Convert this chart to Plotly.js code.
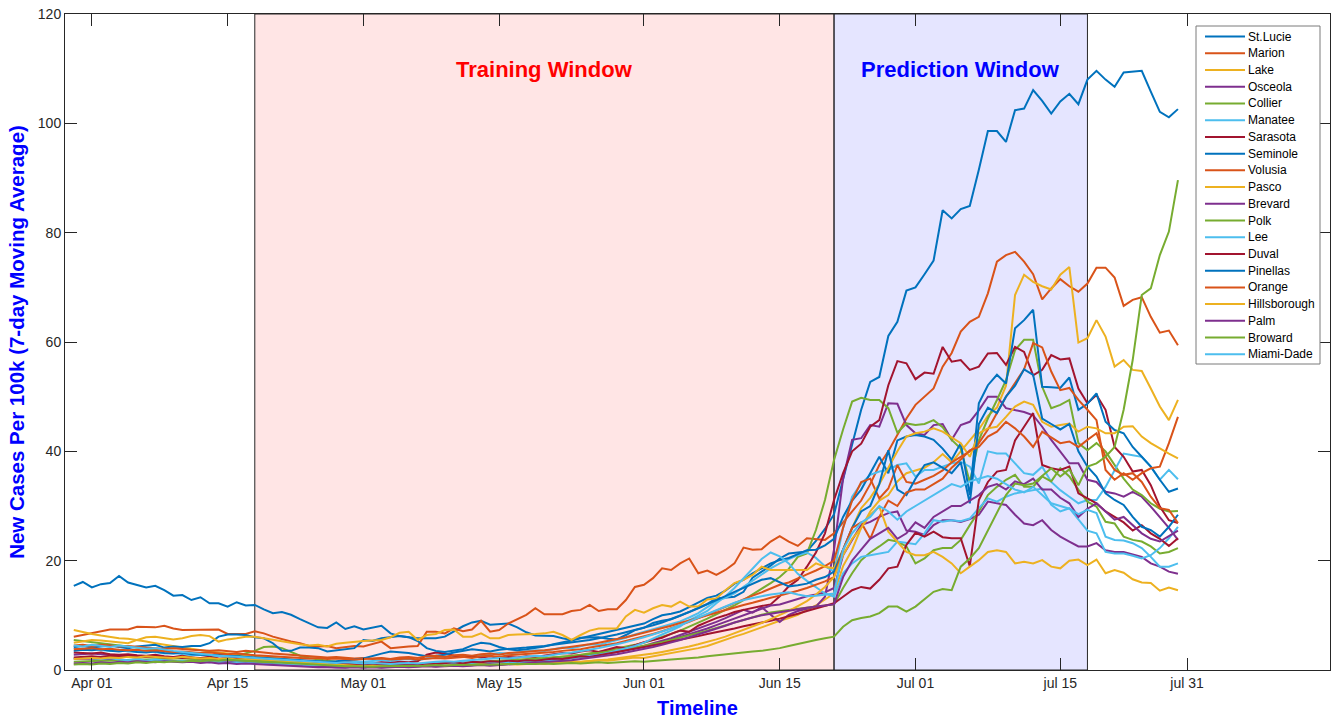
<!DOCTYPE html>
<html>
<head>
<meta charset="utf-8">
<script src="https://cdn.plot.ly/plotly-3.0.1.min.js"></script>
<style>
html, body { margin: 0; padding: 0; background: #ffffff; }
#chart { width: 1341px; height: 719px; }
</style>
</head>
<body>
<div id="chart"></div>
<script>
// ---- Data (daily values, day 0 = first plotted day) ----
const counties = ['St.Lucie','Marion','Lake','Osceola','Collier','Manatee','Sarasota','Seminole','Volusia','Pasco',
                  'Brevard','Polk','Lee','Duval','Pinellas','Orange','Hillsborough','Palm','Broward','Miami-Dade'];

const stLucie = [15.4,16.1,15.1,15.7,15.9,17.2,16.0,15.5,15.1,15.4,14.6,13.6,13.7,12.8,13.3,12.2,12.2,11.6,12.4,11.8,
 11.9,11.1,10.4,10.6,10.1,9.3,8.5,7.8,7.7,8.7,7.5,8.0,7.4,7.8,8.1,6.7,6.2,6.0,5.8,5.8,5.8,6.1,7.0,8.0,8.7,9.0,8.3,8.4,8.5,7.8,
 6.9,6.3,6.3,6.2,5.8,5.5,5.9,6.0,6.0,5.7,5.6,6.4,7.3,7.7,8.6,9.0,9.3,9.9,10.6,11.3,12.1,13.1,13.2,13.4,14.3,16.9,18.0,19.1,20.4,21.3,21.5,21.7,23.6,25.8,
 28.5,35.0,41.5,47.6,52.7,53.6,61.1,63.7,69.4,70.0,72.4,74.9,84.1,82.6,84.3,84.9,91.5,98.6,98.6,96.6,102.4,102.7,106.1,104.1,101.8,104.0,105.4,103.5,108.0,
 109.6,108.0,106.7,109.3,109.4,109.6,105.8,102.1,101.1,102.6];

const marion = [6.1,6.4,6.7,7.0,7.4,7.4,7.4,7.9,7.8,7.8,8.1,7.6,7.3,7.3,7.4,7.4,7.4,6.6,6.6,6.6,
 7.1,6.7,6.1,5.6,5.2,4.9,4.4,4.3,4.4,4.0,4.2,4.4,4.3,4.8,5.2,4.0,4.2,4.3,4.4,7.0,7.0,6.7,7.6,7.1,7.4,9.0,7.0,7.3,8.5,9.3,
 10.1,11.3,10.2,10.2,10.2,10.8,11.0,11.9,10.8,11.1,11.1,12.8,15.2,15.6,16.8,18.6,18.3,19.5,20.4,17.7,18.2,17.4,18.3,19.5,22.4,22.0,22.1,23.5,24.5,23.5,22.7,24.1,23.9,23.8,
 25.0,27.0,29.0,31.0,34.0,37.5,40.0,43.0,46.0,48.5,50.0,51.5,55.5,58.0,61.9,63.7,64.6,68.9,74.7,75.9,76.5,74.7,72.4,67.8,69.8,71.5,70.2,69.2,70.7,
 73.6,73.6,71.8,66.6,67.7,68.2,64.6,61.7,62.1,59.4];

const lake = [7.3,6.9,6.6,6.3,6.0,5.8,5.7,5.5,5.2,4.9,4.6,4.3,4.1,3.9,3.6,3.4,3.2,3.0,2.8,2.7,
 2.6,2.4,2.2,2.0,1.9,1.7,1.6,1.5,1.4,1.5,1.3,1.2,1.3,1.1,1.2,1.0,1.1,1.2,1.0,0.9,1.0,1.1,1.0,0.9,1.1,1.2,1.0,1.1,1.2,1.3,
 1.2,1.4,1.3,1.5,1.4,1.6,1.5,1.7,1.8,1.7,1.9,2.1,2.3,2.2,2.5,2.8,3.0,3.3,3.6,4.0,4.4,5.0,5.5,6.1,6.6,7.2,7.8,8.5,9.0,9.5,10.1,11.0,11.8,12.9,
 14.0,19.0,22.0,26.0,29.0,31.0,32.0,34.5,36.0,36.5,37.0,38.0,39.5,38.0,40.0,42.0,44.0,46.5,48.0,52.0,68.6,72.3,71.0,70.2,69.6,72.3,73.7,59.9,60.7,
 64.0,61.0,55.5,56.7,54.9,54.7,51.5,48.2,45.7,49.4];

const osceola = [2.8,2.9,3.0,2.9,2.8,2.7,2.7,2.6,2.5,2.4,2.4,2.3,2.2,2.1,2.1,2.0,1.9,1.9,1.8,1.7,
 1.6,1.5,1.4,1.3,1.2,1.1,1.0,0.9,0.9,0.8,0.9,0.8,0.7,0.8,0.9,0.8,0.7,0.8,0.9,1.0,0.9,1.0,1.1,1.2,1.1,1.3,1.4,1.3,1.5,1.6,
 1.7,1.8,1.9,2.0,2.2,2.3,2.5,2.7,2.9,3.1,3.4,3.7,4.0,4.4,4.9,5.3,5.8,6.4,7.0,7.5,8.2,8.8,9.5,10.3,11.0,10.5,11.5,10.1,8.8,10.1,10.8,11.2,11.6,13.4,
 22.0,35.0,42.1,42.4,44.8,44.5,48.8,48.7,44.8,43.3,43.0,44.8,45.0,42.1,44.8,45.4,47.5,50.0,50.0,47.9,47.6,47.2,46.6,44.5,42.1,40.0,37.8,37.8,34.8,
 34.4,32.6,32.3,31.7,32.6,31.7,29.9,28.0,26.0,23.8];

const collier = [5.5,5.3,5.0,4.8,4.6,4.4,4.2,4.0,3.8,3.6,3.4,3.3,3.1,3.0,2.8,2.7,2.6,2.5,2.6,3.0,
 3.5,4.2,4.3,4.0,3.3,2.6,2.2,1.9,1.7,1.5,1.4,1.3,1.2,1.1,1.2,1.0,1.1,1.0,0.9,1.0,1.1,1.0,1.1,1.2,1.3,1.2,1.4,1.5,1.6,1.7,
 1.8,2.0,2.1,2.3,2.4,2.6,2.8,3.0,3.3,3.6,3.9,4.2,4.6,5.0,5.5,6.0,6.6,7.2,7.9,8.6,9.4,10.2,11.0,11.8,12.8,13.8,14.8,15.9,17.0,18.5,20.7,21.3,25.6,31.1,
 38.4,44.0,49.1,49.8,49.4,49.4,47.9,43.4,45.1,44.8,45.0,45.7,44.4,42.1,40.5,34.4,42.0,46.0,49.4,53.0,58.5,60.4,60.4,51.8,47.9,48.5,49.4,41.5,40.2,
 41.5,40.0,37.5,35.0,33.0,32.0,30.5,29.5,29.0,29.1];

const manatee = [4.0,3.8,3.9,3.6,3.5,3.7,3.4,3.3,3.5,3.2,3.0,3.1,2.9,2.7,2.8,2.6,2.5,2.4,2.3,2.2,
 2.1,2.0,1.9,1.7,1.6,1.5,1.4,1.5,1.3,1.4,1.5,1.6,1.5,1.7,1.8,1.6,1.9,2.0,1.8,2.1,2.3,2.2,2.4,2.6,2.5,2.7,2.9,3.1,3.0,3.2,
 3.4,3.6,3.5,3.8,4.1,4.0,4.4,4.7,4.6,5.0,5.4,5.9,6.5,7.0,7.4,8.0,8.5,8.9,9.6,10.4,11.5,12.6,13.2,14.0,15.2,16.3,17.4,18.6,19.5,20.3,21.0,21.5,20.5,19.0,
 18.0,26.0,31.7,34.1,35.7,36.3,36.6,37.5,37.8,35.4,36.6,36.6,37.2,37.8,38.1,37.2,34.1,40.0,39.6,39.6,37.8,36.0,35.7,37.2,34.4,32.9,31.7,30.5,31.1,
 31.1,33.5,36.6,39.6,39.3,39.0,37.2,34.8,36.6,34.9];

const sarasota = [3.2,3.1,3.0,3.2,2.9,2.8,2.9,2.7,2.6,2.8,2.5,2.4,2.6,2.3,2.2,2.4,2.1,2.0,2.2,1.9,
 1.8,1.7,1.9,1.6,1.5,1.7,1.4,1.3,1.5,1.2,1.4,1.3,1.1,1.2,1.4,1.3,1.5,1.4,1.6,2.8,3.2,3.0,2.6,2.4,2.5,2.3,2.5,2.2,2.4,2.3,
 2.5,2.4,2.7,2.9,3.1,3.0,3.4,3.6,3.3,3.8,4.2,4.0,4.6,5.1,5.5,5.9,6.6,7.2,7.0,8.1,8.8,9.5,10.0,10.6,11.0,11.4,11.7,12.0,13.5,15.3,16.5,18.9,21.5,25.0,
 31.1,36.0,40.0,41.4,44.5,45.7,52.1,56.5,56.1,53.2,54.4,54.2,59.1,56.4,56.7,54.9,55.5,57.9,58.0,55.8,59.1,58.2,53.9,54.9,57.6,56.8,57.0,51.5,48.8,
 50.3,47.6,40.8,39.0,36.3,36.6,33.8,29.9,27.4,26.9];

const seminole = [4.2,4.4,4.1,4.3,4.5,4.2,4.0,4.3,4.4,4.6,4.1,4.3,4.2,4.4,4.4,4.9,6.1,6.5,6.5,6.4,
 6.0,5.8,4.9,3.5,3.5,4.1,4.1,4.0,3.4,3.6,3.7,4.0,5.5,5.3,5.8,6.0,6.2,6.0,5.3,4.0,3.5,3.3,3.5,3.8,4.5,5.0,4.8,4.2,3.8,3.6,
 3.8,4.0,4.3,4.7,5.0,5.4,5.8,6.2,6.5,6.9,7.4,7.8,8.2,8.5,9.3,10.0,10.3,10.7,11.5,12.4,13.2,13.6,14.5,15.8,16.5,17.7,18.6,19.5,20.1,20.5,21.2,21.9,22.0,22.8,
 24.0,28.0,31.0,33.0,36.0,39.0,36.0,42.0,42.7,43.0,42.7,42.1,40.5,38.5,41.5,32.0,48.8,52.1,54.0,52.4,62.5,64.0,65.9,51.8,51.7,51.6,53.5,47.6,48.7,
 50.6,45.4,43.9,43.3,40.8,39.0,37.2,34.8,32.6,33.2];

const volusia = [4.5,4.6,4.4,4.6,4.5,4.3,4.4,4.2,4.1,4.0,3.9,4.0,3.8,3.7,3.6,3.5,3.6,3.4,3.3,3.5,
 3.4,3.2,3.0,2.9,2.7,2.6,2.5,2.4,2.3,2.4,2.2,2.1,2.2,2.0,2.1,1.9,2.0,2.1,1.9,2.0,2.2,2.1,2.3,2.4,2.2,2.5,2.6,2.4,2.7,2.8,
 2.9,3.0,3.2,3.3,3.5,3.6,3.8,4.1,4.3,4.6,4.9,5.3,5.7,6.1,6.6,7.1,7.6,8.2,8.8,9.5,10.1,10.8,11.5,12.3,13.0,13.6,14.2,14.9,15.6,16.0,16.8,17.5,18.2,19.0,
 20.0,26.0,31.0,34.4,35.0,31.4,33.2,37.5,34.4,34.1,34.8,35.5,36.5,38.0,39.0,40.0,41.5,44.0,47.0,50.0,52.5,55.0,59.8,59.0,54.6,51.2,51.6,49.4,47.6,
 45.7,36.6,34.8,36.0,34.8,36.0,36.9,37.2,41.5,46.3];

const pasco = [5.0,5.3,5.5,5.4,5.2,5.0,4.9,5.5,6.0,6.1,5.9,5.6,5.8,6.2,6.4,6.2,5.2,5.6,5.8,6.1,
 6.1,5.8,5.5,5.2,4.9,4.7,4.5,4.6,4.3,4.8,5.0,5.2,5.3,5.4,5.5,6.0,6.8,7.0,5.5,6.4,6.6,7.3,7.4,6.1,6.1,6.7,5.8,5.8,6.4,6.5,
 6.5,6.6,6.7,7.0,6.4,5.5,6.4,7.2,7.6,7.6,7.6,9.8,11.0,10.5,11.3,11.9,11.6,12.5,11.6,11.6,12.9,13.1,14.6,15.9,16.5,17.4,18.9,18.3,18.3,18.4,18.3,18.3,19.5,18.9,
 18.6,22.0,26.0,29.6,31.5,34.0,37.0,40.0,42.7,43.3,43.6,44.2,43.6,42.5,41.5,39.0,43.3,44.2,44.5,46.3,48.2,49.1,48.5,45.4,44.5,44.8,45.1,43.6,44.5,
 44.2,43.3,43.3,44.5,44.6,42.7,41.5,40.5,39.6,38.7];

const brevard = [2.0,2.1,2.0,1.9,2.0,1.9,1.8,1.9,1.8,1.7,1.8,1.7,1.6,1.7,1.6,1.5,1.5,1.4,1.5,1.4,
 1.3,1.2,1.1,1.0,0.9,0.8,0.7,0.6,0.6,0.5,0.5,0.6,0.5,0.6,0.5,0.6,0.7,0.6,0.7,0.8,0.7,0.8,0.9,0.8,0.9,1.0,1.1,1.0,1.2,1.3,
 1.4,1.5,1.7,1.8,2.0,2.2,2.3,2.6,2.8,3.0,3.3,3.6,3.9,4.3,4.6,5.0,5.5,6.0,6.5,7.0,7.6,8.2,8.8,9.5,10.0,10.6,11.2,11.8,12.0,12.5,13.0,13.5,13.8,14.2,
 15.0,21.0,23.8,26.5,27.1,28.0,28.7,29.0,25.5,25.3,24.7,26.5,27.4,27.4,27.1,27.6,28.4,30.8,30.5,30.2,28.4,26.8,26.5,27.4,25.6,24.4,23.5,22.6,22.6,
 23.2,21.9,21.6,21.6,21.2,20.7,19.5,18.9,18.0,17.6];

const polk = [1.5,1.6,1.6,1.7,1.7,1.8,1.8,1.9,1.9,2.0,2.0,2.1,2.1,2.0,2.0,1.9,1.9,1.8,1.8,1.7,
 1.6,1.5,1.4,1.3,1.2,1.1,1.1,1.0,1.0,0.9,0.9,0.8,0.8,0.9,0.9,1.0,1.0,1.1,1.1,1.2,1.2,1.3,1.3,1.4,1.4,1.5,1.6,1.6,1.7,1.8,
 1.9,2.0,2.1,2.2,2.4,2.5,2.7,2.9,3.1,3.3,3.5,3.8,4.1,4.4,4.7,5.1,5.5,5.9,6.3,6.8,7.2,7.7,8.2,8.7,9.2,9.7,10.1,10.5,10.8,11.0,11.2,11.4,11.6,11.8,
 12.0,15.0,17.7,20.1,21.5,22.6,23.8,23.5,22.6,19.5,20.4,21.9,22.3,22.3,23.8,26.5,29.0,32.0,33.5,34.8,35.7,33.5,33.5,35.4,34.5,36.9,35.4,33.0,30.8,
 29.9,27.1,26.8,24.4,23.8,23.5,22.6,21.3,21.6,22.3];

const lee = [2.2,2.3,2.1,2.0,2.2,1.9,1.8,2.0,1.7,1.9,1.8,1.6,1.7,1.5,1.6,1.4,1.5,1.3,1.4,1.3,
 1.2,1.1,1.0,1.1,0.9,1.0,0.8,0.9,1.0,0.9,0.8,0.9,1.0,0.9,1.1,1.0,1.2,1.1,1.0,1.2,1.3,1.1,1.2,1.4,1.3,1.5,1.4,1.3,1.5,1.4,
 1.5,1.6,1.8,1.7,1.9,2.1,2.3,2.6,2.8,3.1,3.5,3.9,4.4,5.0,5.8,6.5,7.2,8.0,9.1,10.0,10.8,12.2,13.5,15.0,16.8,18.5,20.3,21.5,20.8,19.5,17.6,16.3,15.2,14.0,
 13.4,17.7,19.5,20.7,21.0,21.3,21.6,23.5,23.2,23.0,25.0,27.4,27.1,27.4,27.2,27.7,29.6,31.4,30.8,31.7,32.3,32.6,33.0,33.2,30.2,29.0,29.6,27.5,25.5,
 25.0,21.6,21.3,21.3,20.9,20.4,21.0,22.3,24.1,26.2];

const duval = [2.3,2.4,2.5,2.4,2.6,2.5,2.6,2.5,2.4,2.5,2.3,2.4,2.2,2.3,2.1,2.2,2.0,2.1,1.9,2.0,
 1.9,1.8,1.7,1.6,1.5,1.4,1.3,1.3,1.2,1.1,1.1,1.0,1.0,1.1,1.0,0.9,1.0,1.1,1.0,1.2,1.1,1.3,1.4,1.2,1.5,1.4,1.6,1.5,1.7,1.6,
 1.8,1.7,1.9,2.1,2.0,2.3,2.5,2.4,2.7,3.0,3.2,3.5,3.8,4.1,4.5,4.8,5.2,5.5,5.9,6.2,6.6,6.9,7.3,7.6,8.0,8.3,8.7,9.0,9.4,9.8,10.3,10.8,11.3,11.8,
 12.2,13.4,14.6,15.2,14.9,16.5,18.6,18.9,22.9,25.1,24.4,25.3,24.3,24.1,24.1,19.0,31.1,34.4,36.3,36.6,42.0,44.5,47.0,37.5,36.9,36.6,37.2,32.3,31.4,
 30.5,29.0,28.0,27.0,25.5,26.5,25.0,24.0,22.7,24.1];

const pinellas = [3.5,3.7,3.6,3.8,3.5,3.4,3.6,3.3,3.2,3.4,3.1,3.0,3.2,2.9,2.8,2.7,2.9,2.6,2.5,2.4,
 2.3,2.2,2.1,2.0,1.9,1.8,1.7,1.6,1.5,1.6,1.7,1.9,2.1,2.6,3.0,3.4,3.3,3.1,2.8,2.5,2.6,2.8,3.2,3.5,3.8,3.6,3.4,3.7,3.9,4.0,
 4.1,4.2,4.4,4.6,4.8,5.0,5.2,5.5,5.8,6.1,6.5,6.9,7.3,7.7,8.2,8.7,9.3,9.9,10.6,11.3,12.0,12.8,13.5,14.3,15.0,15.8,16.5,16.8,16.0,15.3,15.5,15.8,16.5,17.0,
 18.0,22.0,26.0,29.0,30.0,34.0,40.2,33.0,32.0,35.0,37.5,38.0,37.0,36.0,38.0,30.5,45.0,48.0,47.0,50.0,52.0,55.0,54.0,46.0,45.0,44.0,45.0,40.0,37.2,
 35.4,32.3,31.1,30.2,28.0,26.2,25.6,24.4,26.2,28.4];

const orange = [3.8,3.9,4.0,3.8,3.9,3.7,3.6,3.7,3.5,3.6,3.4,3.3,3.4,3.2,3.1,3.2,3.0,2.9,3.0,2.8,
 2.7,2.6,2.5,2.4,2.3,2.2,2.1,2.2,2.0,2.1,2.0,1.9,2.0,2.1,2.2,2.0,2.3,2.4,2.2,2.5,2.6,2.4,2.7,2.8,2.6,2.9,3.0,2.8,3.1,3.2,
 3.3,3.5,3.6,3.8,4.0,4.2,4.4,4.7,5.0,5.3,5.6,6.0,6.4,6.8,7.2,7.7,8.1,8.6,9.0,9.5,10.0,10.5,11.0,11.4,11.9,12.3,12.8,13.2,13.6,14.0,14.5,15.0,15.6,16.2,
 17.0,22.0,26.0,27.0,24.0,28.0,31.0,30.0,32.5,33.0,33.0,34.0,35.0,37.0,38.5,40.2,40.8,42.7,43.6,45.4,44.2,42.7,40.8,43.6,42.5,41.5,41.8,40.8,42.1,
 43.3,39.0,36.6,35.7,36.0,34.4,31.7,29.6,29.3,26.9];

const hillsborough = [2.0,2.1,2.2,2.1,2.3,2.2,2.4,2.3,2.5,2.4,2.3,2.2,2.4,2.3,2.1,2.2,2.0,2.1,1.9,2.0,
 1.9,1.8,1.6,1.5,1.4,1.3,1.2,1.1,1.0,0.9,0.9,0.8,0.7,0.8,0.7,0.6,0.7,0.6,0.7,0.8,0.7,0.8,0.9,0.8,0.9,1.0,0.9,1.0,1.1,1.0,
 1.1,1.2,1.1,1.3,1.4,1.3,1.5,1.6,1.8,1.9,2.1,2.3,2.5,2.7,3.0,3.3,3.6,3.9,4.3,4.7,5.1,5.6,6.1,6.7,7.3,7.9,8.6,9.3,10.0,10.8,11.7,12.6,13.8,15.2,
 17.0,21.0,24.0,26.0,28.4,29.9,25.3,23.5,21.6,21.0,21.0,21.6,20.7,19.5,17.7,18.9,20.1,21.6,21.9,21.6,19.5,19.8,19.5,20.1,18.9,18.6,20.0,20.2,19.2,
 20.2,17.7,18.3,17.8,16.6,16.0,15.9,14.5,15.1,14.6];

const palm = [1.2,1.3,1.2,1.4,1.3,1.5,1.4,1.6,1.5,1.4,1.6,1.5,1.4,1.5,1.3,1.4,1.2,1.3,1.1,1.2,
 1.1,1.0,0.9,0.8,0.7,0.6,0.6,0.5,0.5,0.4,0.4,0.5,0.4,0.5,0.4,0.5,0.6,0.5,0.6,0.7,0.6,0.7,0.8,0.7,0.8,0.9,0.8,0.9,1.0,1.1,
 1.2,1.3,1.4,1.5,1.7,1.8,2.0,2.2,2.4,2.6,2.9,3.2,3.5,3.8,4.2,4.6,5.0,5.5,6.0,6.5,7.0,7.6,8.1,8.7,9.2,9.6,10.0,10.3,10.6,10.9,11.2,11.4,11.6,11.8,
 12.0,17.0,20.0,22.0,24.0,25.0,26.0,24.0,25.0,27.0,26.0,28.0,29.0,30.0,30.0,31.0,32.0,33.5,34.0,33.0,34.5,34.0,35.0,33.0,33.0,31.5,30.5,28.0,29.5,
 30.5,29.0,27.5,28.0,26.5,25.0,24.0,23.5,24.5,25.5];

const broward = [1.0,1.1,1.0,1.2,1.1,1.3,1.2,1.4,1.3,1.5,1.4,1.6,1.5,1.7,1.6,1.8,1.7,1.9,1.8,1.7,
 1.6,1.5,1.4,1.3,1.2,1.1,1.0,0.9,0.8,0.8,0.7,0.7,0.6,0.6,0.7,0.7,0.8,0.8,0.7,0.8,0.9,0.8,0.9,0.9,1.0,1.0,0.9,1.0,1.1,1.1,
 1.0,1.1,1.2,1.1,1.2,1.3,1.2,1.3,1.4,1.3,1.4,1.5,1.6,1.5,1.7,1.8,1.9,2.0,2.2,2.3,2.5,2.7,2.9,3.1,3.3,3.4,3.5,3.7,4.0,4.4,4.8,5.2,5.5,5.8,
 6.1,7.9,9.1,9.5,9.8,10.4,11.6,11.6,10.7,11.6,12.9,14.3,14.8,14.6,18.9,20.4,22.3,25.6,29.0,32.0,34.1,33.8,34.1,35.5,36.9,35.4,36.7,33.8,37.2,
 37.8,39.0,40.8,47.6,56.7,68.6,69.8,75.9,80.2,89.6];

const miamiDade = [4.5,4.3,4.6,4.4,4.2,4.5,4.3,4.1,3.9,4.0,3.7,3.5,3.3,3.1,2.9,2.8,2.6,2.5,2.4,2.2,
 2.1,2.0,1.9,1.8,1.7,1.6,1.5,1.5,1.4,1.3,1.4,1.3,1.2,1.3,1.2,1.1,1.2,1.3,1.2,1.4,1.5,1.6,1.5,1.7,1.8,1.9,2.0,2.2,2.1,2.3,
 2.4,2.6,2.5,2.8,3.0,3.2,3.4,3.7,4.0,4.3,4.7,5.1,5.5,6.0,6.5,7.0,7.6,8.2,8.9,9.6,10.3,11.0,11.7,12.3,12.8,13.2,13.5,13.8,14.0,14.2,13.8,13.5,13.6,13.8,
 14.0,22.0,25.0,27.0,28.0,30.0,29.0,27.5,29.0,30.0,31.0,32.0,33.0,34.0,33.5,34.5,35.0,35.5,35.0,34.0,33.0,32.5,33.5,32.0,30.5,30.0,29.5,28.5,29.3,
 28.7,24.4,23.8,23.7,23.2,22.3,20.7,18.9,18.9,19.5];

const seriesValues = [stLucie, marion, lake, osceola, collier, manatee, sarasota, seminole, volusia, pasco,
                      brevard, polk, lee, duval, pinellas, orange, hillsborough, palm, broward, miamiDade];

const tickPositions = [2, 17, 32, 47, 63, 78, 93, 109, 123];
const tickLabels = ['Apr 01', 'Apr 15', 'May 01', 'May 15', 'Jun 01', 'Jun 15', 'Jul 01', 'jul 15', 'jul 31'];
const trainingWindow = [20, 84];
const predictionWindow = [84, 112];

// ---- Styling ----
const palette = ['#0072BD', '#D95319', '#EDB120', '#7E2F8E', '#77AC30', '#4DBEEE', '#A2142F'];
const FONT = 'Liberation Sans, Arial, Helvetica, sans-serif';

// plot-area geometry in pixels (for the legend box placed in paper coordinates)
const PLOT = { left: 65, top: 14, width: 1265, height: 656 };
const px2x = px => (px - PLOT.left) / PLOT.width;
const px2y = py => (PLOT.top + PLOT.height - py) / PLOT.height;
const LEG = { left: 1196, right: 1320, top: 26, bottom: 364, firstRow: 36.6, rowStep: 16.72,
              lineStart: 1205, lineEnd: 1245, textStart: 1246 };

const traces = seriesValues.map((vals, i) => ({
  type: 'scatter',
  mode: 'lines',
  name: counties[i],
  x: vals.map((_, d) => d),
  y: vals,
  line: { color: palette[i % palette.length], width: 2 },
  showlegend: false,
  hoverinfo: 'x+y+name'
}));

const annotations = [
  { x: (trainingWindow[0] + trainingWindow[1]) / 2, y: 109.8, xref: 'x', yref: 'y', text: 'Training Window',
    showarrow: false, font: { family: FONT, size: 22, color: '#FF0000', weight: 'bold' } },
  { x: (predictionWindow[0] + predictionWindow[1]) / 2, y: 109.8, xref: 'x', yref: 'y', text: 'Prediction Window',
    showarrow: false, font: { family: FONT, size: 22, color: '#0000FF', weight: 'bold' } }
];

const shapes = [
  { type: 'rect', xref: 'x', yref: 'y', x0: trainingWindow[0], x1: trainingWindow[1], y0: 0, y1: 120,
    fillcolor: 'rgba(255,0,0,0.1)', line: { color: '#262626', width: 1 }, layer: 'below' },
  { type: 'rect', xref: 'x', yref: 'y', x0: predictionWindow[0], x1: predictionWindow[1], y0: 0, y1: 120,
    fillcolor: 'rgba(0,0,255,0.1)', line: { color: '#262626', width: 1 }, layer: 'below' },
  // legend frame
  { type: 'rect', xref: 'paper', yref: 'paper', x0: px2x(LEG.left), x1: px2x(LEG.right),
    y0: px2y(LEG.bottom), y1: px2y(LEG.top), fillcolor: '#ffffff', line: { color: '#7a7a7a', width: 1 }, layer: 'above' }
];

// legend rows (one per county trace)
counties.forEach((name, i) => {
  const yRow = px2y(LEG.firstRow + i * LEG.rowStep);
  shapes.push({ type: 'line', xref: 'paper', yref: 'paper', x0: px2x(LEG.lineStart), x1: px2x(LEG.lineEnd),
    y0: yRow, y1: yRow, line: { color: palette[i % palette.length], width: 2 }, layer: 'above' });
  annotations.push({ xref: 'paper', yref: 'paper', x: px2x(LEG.textStart), y: yRow, xanchor: 'left', yanchor: 'middle',
    text: name, showarrow: false, font: { family: FONT, size: 12, color: '#000000' } });
});

seriesValues.forEach((v, i) => {
  if (v.length !== 123) {
    annotations.push({ xref: 'paper', yref: 'paper', x: 0.3, y: 0.9 - i * 0.04, showarrow: false,
      text: 'LEN ' + counties[i] + ' ' + v.length, font: { size: 16, color: 'black' } });
  }
});

const layout = {
  width: 1341, height: 719,
  margin: { l: PLOT.left, r: 1341 - PLOT.left - PLOT.width, t: PLOT.top, b: 719 - PLOT.top - PLOT.height, pad: 0 },
  paper_bgcolor: '#ffffff', plot_bgcolor: '#ffffff',
  font: { family: FONT, size: 14, color: '#262626' },
  showlegend: false,
  xaxis: {
    range: [-0.97, 138.8],
    tickmode: 'array', tickvals: tickPositions, ticktext: tickLabels,
    ticks: 'inside', ticklen: 12, tickwidth: 1, tickcolor: '#262626',
    showline: true, linecolor: '#262626', linewidth: 1, mirror: 'allticks',
    showgrid: false, zeroline: false,
    tickfont: { family: FONT, size: 14, color: '#262626' },
    title: { text: 'Timeline', font: { family: FONT, size: 20, color: '#0000FF', weight: 'bold' }, standoff: 11 }
  },
  yaxis: {
    range: [0, 120],
    tickmode: 'array', tickvals: [0, 20, 40, 60, 80, 100, 120],
    ticks: 'inside', ticklen: 12, tickwidth: 1, tickcolor: '#262626',
    showline: true, linecolor: '#262626', linewidth: 1, mirror: 'allticks',
    showgrid: false, zeroline: false,
    tickfont: { family: FONT, size: 14, color: '#262626' },
    title: { text: 'New Cases Per 100k (7-day Moving Average)', font: { family: FONT, size: 20.5, color: '#0000FF', weight: 'bold' }, standoff: 7 }
  },
  shapes: shapes,
  annotations: annotations,
  hovermode: 'closest'
};

Plotly.newPlot('chart', traces, layout, { displayModeBar: false, responsive: false });
</script>
</body>
</html>
